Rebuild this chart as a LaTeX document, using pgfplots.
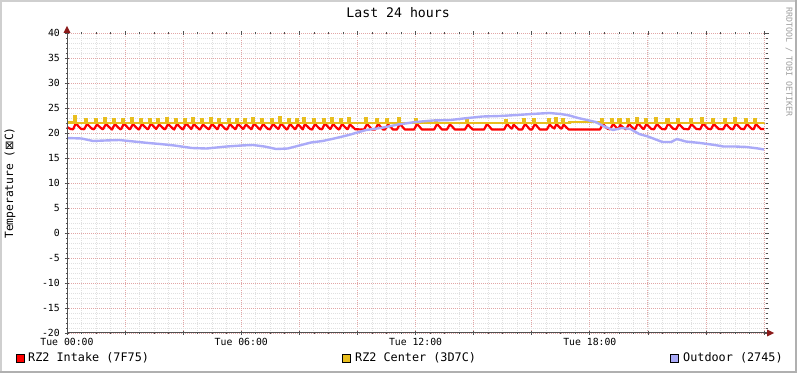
\documentclass[border=0pt]{standalone}
\usepackage{pgfplots}
\pgfplotsset{compat=1.18}
\usepackage{fontspec}
\setmainfont{DejaVu Sans Mono}
\newfontfamily\djs{DejaVu Sans}
\definecolor{intake}{HTML}{FF0000}
\definecolor{center}{HTML}{E8BE1E}
\definecolor{outdoor}{HTML}{AAAAF8}
\definecolor{mgrid}{HTML}{E2A6A6}
\definecolor{ngrid}{HTML}{E0E0E0}
\definecolor{axisc}{HTML}{505050}
\definecolor{arrowc}{HTML}{8B1A1A}
\definecolor{shadea}{HTML}{CFCFCF}
\definecolor{shadeb}{HTML}{B0B0B0}
\begin{document}
\begin{tikzpicture}
\fill[shadeb] (0bp,0bp) rectangle (797bp,373bp);
\fill[shadea] (0bp,2bp) rectangle (795bp,373bp);
\fill[white] (2bp,2bp) rectangle (795bp,371bp);
\begin{axis}[
  at={(67bp,40bp)}, anchor=south west,
  scale only axis, width=700bp, height=300bp,
  xmin=0, xmax=24.1, ymin=-20, ymax=40,
  axis line style={draw=none},
  xtick={0,2,...,24},
  xticklabels={Tue 00:00,,,Tue 06:00,,,Tue 12:00,,,Tue 18:00,,,},
  minor xtick={0,0.5,...,24},
  ytick={-20,-15,...,40},
  yticklabels={-20,-15,-10,-5,0,5,10,15,20,25,30,35,40},
  minor ytick={-20,-19,...,40},
  grid=both,
  major grid style={draw=mgrid, dash pattern=on 1bp off 1bp, line width=0.9bp},
  minor grid style={draw=ngrid, dash pattern=on 1bp off 1bp, line width=0.8bp},
  tick style={draw=axisc, line width=0.7bp},
  major tick length=4bp, minor tick length=2bp, tick align=center,
  tick label style={font=\fontsize{9.8bp}{11bp}\selectfont},
  xticklabel style={inner sep=0pt, yshift=-3bp},
  yticklabel style={inner sep=0pt, xshift=-5bp},
  title={Last 24 hours},
  title style={at={(axis description cs:0.473,1.047)}, anchor=center, font=\fontsize{13.2bp}{15bp}\selectfont},
  ylabel={Temperature ({\djs ⊠}C)},
  ylabel style={at={(axis description cs:-0.0814,0.5)}, anchor=center, font=\fontsize{11.3bp}{13bp}\selectfont},
  clip=false,
]
\addplot[intake, line width=2.2bp, line join=round] coordinates {
(0,21.2)(0.12,20.8)
(0.21,20.75)(0.31,22.0)(0.39,21.35)(0.48,20.85)
(0.59,20.75)(0.69,21.8)(0.77,21.35)(0.86,20.85)
(0.93,20.75)(1.03,21.7)(1.11,21.3)(1.20,20.85)
(1.24,20.75)(1.34,21.8)(1.42,21.35)(1.51,20.85)
(1.55,20.7)(1.65,21.8)(1.73,21.3)(1.82,20.8)
(1.86,20.75)(1.96,21.9)(2.04,21.4)(2.13,20.85)
(2.17,20.75)(2.27,21.8)(2.35,21.3)(2.44,20.8)
(2.48,20.7)(2.58,21.8)(2.66,21.35)(2.75,20.85)
(2.79,20.75)(2.89,21.9)(2.97,21.4)(3.06,20.85)
(3.07,20.8)(3.17,21.7)(3.25,21.3)(3.34,20.8)
(3.38,20.75)(3.48,21.8)(3.56,21.35)(3.65,20.85)
(3.69,20.7)(3.79,21.8)(3.87,21.3)(3.96,20.8)
(4.00,20.75)(4.10,21.9)(4.18,21.4)(4.27,20.85)
(4.28,20.8)(4.37,21.8)(4.45,21.3)(4.54,20.8)
(4.58,20.7)(4.68,21.7)(4.76,21.3)(4.85,20.85)
(4.89,20.75)(4.99,21.8)(5.07,21.35)(5.16,20.8)
(5.18,20.75)(5.27,21.9)(5.35,21.4)(5.44,20.85)
(5.51,20.7)(5.61,21.8)(5.69,21.3)(5.78,20.8)
(5.80,20.75)(5.89,21.8)(5.97,21.35)(6.05,20.85)
(6.07,20.8)(6.16,21.7)(6.24,21.3)(6.33,20.8)
(6.35,20.75)(6.44,21.9)(6.52,21.4)(6.61,20.85)
(6.65,20.7)(6.75,21.8)(6.83,21.3)(6.92,20.8)
(6.99,20.75)(7.09,21.8)(7.17,21.35)(7.26,20.85)
(7.28,20.8)(7.37,21.9)(7.45,21.4)(7.54,20.8)
(7.58,20.7)(7.68,21.8)(7.76,21.3)(7.84,20.8)
(7.86,20.75)(7.95,21.7)(8.03,21.3)(8.10,20.8)
(8.12,20.75)(8.19,21.8)(8.27,21.35)(8.37,20.8)
(8.44,20.7)(8.54,21.8)(8.62,21.3)(8.71,20.8)
(8.78,20.75)(8.88,21.9)(8.96,21.4)(9.05,20.85)
(9.07,20.8)(9.16,21.8)(9.24,21.3)(9.33,20.8)
(9.37,20.7)(9.47,21.8)(9.55,21.3)(9.64,20.8)
(9.66,20.75)(9.74,21.7)(9.82,21.3)(9.92,20.75)
(10.23,20.7)(10.33,21.8)(10.41,21.3)(10.50,20.7)
(10.61,20.7)(10.71,21.8)(10.79,21.3)(10.88,20.7)
(10.95,20.7)(11.05,21.7)(11.13,21.3)(11.22,20.7)
(11.36,20.7)(11.46,21.8)(11.54,21.3)(11.63,20.7)
(11.95,20.7)(12.05,21.8)(12.13,21.3)(12.22,20.7)
(12.64,20.7)(12.74,21.8)(12.82,21.3)(12.91,20.7)
(13.08,20.7)(13.18,21.7)(13.26,21.3)(13.35,20.7)
(13.70,20.7)(13.80,21.7)(13.88,21.2)(13.97,20.7)
(14.36,20.7)(14.46,21.8)(14.54,21.3)(14.63,20.7)
(15.05,20.7)(15.15,21.8)(15.23,21.3)(15.30,20.9)
(15.32,20.9)(15.38,21.7)(15.46,21.2)(15.55,20.7)
(15.67,20.7)(15.77,21.8)(15.85,21.3)(15.94,20.7)
(16.01,20.7)(16.11,21.8)(16.19,21.3)(16.28,20.7)
(16.52,20.7)(16.62,21.7)(16.70,21.2)
(16.78,20.9)(16.85,21.8)(16.93,21.3)(17.00,20.9)
(17.03,20.9)(17.10,21.7)(17.18,21.2)(17.27,20.7)
(18.35,20.7)(18.45,21.8)(18.53,21.3)(18.62,20.8)
(18.70,20.75)(18.80,21.8)(18.88,21.3)(18.96,20.85)
(18.98,20.8)(19.05,21.6)(19.13,21.2)(19.22,20.8)
(19.25,20.75)(19.35,21.8)(19.43,21.3)(19.52,20.8)
(19.56,20.75)(19.66,22.0)(19.74,21.4)(19.83,20.85)
(19.86,20.8)(19.95,21.8)(20.03,21.3)(20.12,20.8)
(20.21,20.75)(20.31,21.8)(20.39,21.3)(20.48,20.8)
(20.60,20.75)(20.70,21.9)(20.78,21.4)(20.87,20.85)
(20.97,20.75)(21.07,21.8)(21.15,21.3)(21.24,20.8)
(21.40,20.75)(21.50,21.8)(21.58,21.3)(21.67,20.8)
(21.80,20.75)(21.90,21.9)(21.98,21.4)(22.07,20.85)
(22.17,20.75)(22.27,21.8)(22.35,21.3)(22.44,20.8)
(22.59,20.75)(22.69,21.8)(22.77,21.3)(22.86,20.8)
(22.93,20.75)(23.03,21.9)(23.11,21.4)(23.20,20.85)
(23.31,20.75)(23.41,21.8)(23.49,21.3)(23.58,20.8)
(23.64,20.75)(23.72,21.8)(23.80,21.3)(23.89,20.8)
(24.0,20.8)
};
\addplot[center, line width=2.2bp, const plot] coordinates {
(0,22.1)
(0.25,23.3)(0.32,22.05)(0.63,22.8)(0.70,22.05)(0.97,22.8)(1.04,22.05)
(1.28,22.9)(1.35,22.05)(1.59,22.8)(1.66,22.05)(1.90,22.7)(1.97,22.05)
(2.21,22.9)(2.28,22.05)(2.52,22.8)(2.59,22.05)(2.83,22.8)(2.90,22.05)
(3.11,22.7)(3.18,22.05)(3.42,22.9)(3.49,22.05)(3.73,22.8)(3.80,22.05)
(4.04,22.8)(4.11,22.05)(4.31,23.0)(4.38,22.05)(4.62,22.8)(4.69,22.05)
(4.93,22.9)(5.00,22.05)(5.21,22.8)(5.28,22.05)(5.55,22.8)(5.62,22.05)
(5.83,22.8)(5.90,22.05)(6.10,22.7)(6.17,22.05)(6.38,22.9)(6.45,22.05)
(6.69,22.8)(6.76,22.05)(7.03,22.8)(7.10,22.05)(7.31,23.2)(7.38,22.05)
(7.62,22.8)(7.69,22.05)(7.89,22.8)(7.96,22.05)(8.13,22.9)(8.20,22.05)
(8.48,22.8)(8.55,22.05)(8.82,22.8)(8.89,22.05)(9.10,23.0)(9.17,22.05)
(9.41,22.8)(9.48,22.05)(9.68,22.9)(9.75,22.05)
(10.27,22.9)(10.34,22.05)(10.65,22.8)(10.72,22.05)(10.99,22.8)(11.06,22.05)
(11.40,22.9)(11.47,22.05)(11.99,22.7)(12.06,22.05)(12.68,22.6)(12.75,22.05)
(13.74,22.9)(13.81,22.05)(15.09,22.6)(15.16,22.05)(15.71,22.8)(15.78,22.05)
(16.05,22.8)(16.12,22.05)(16.56,22.8)(16.63,22.05)(16.79,22.9)(16.86,22.05)
(17.04,22.8)(17.11,22.05)(17.30,22.2)(18.30,22.05)
(18.39,22.8)(18.46,22.05)(18.74,22.8)(18.81,22.05)(18.99,22.7)(19.06,22.05)
(19.29,22.8)(19.36,22.05)(19.60,23.0)(19.67,22.05)(19.89,22.8)(19.96,22.05)
(20.25,22.9)(20.32,22.05)(20.64,22.8)(20.71,22.05)(21.01,22.8)(21.08,22.05)
(21.44,22.8)(21.51,22.05)(21.84,23.0)(21.91,22.05)(22.21,22.8)(22.28,22.05)
(22.63,22.8)(22.70,22.05)(22.97,22.9)(23.04,22.05)(23.35,22.8)(23.42,22.05)
(23.66,22.8)(23.73,22.05)(24.0,22.1)
};
\addplot[outdoor, line width=2.4bp, line join=round] coordinates {
(0,19.0)(0.5,18.9)(0.9,18.4)(1.3,18.5)(1.8,18.6)(2.3,18.3)(2.8,18.0)
(3.2,17.8)(3.7,17.5)(4.3,17.0)(4.8,16.9)(5.5,17.3)(6.0,17.5)(6.4,17.6)
(6.8,17.3)(7.2,16.8)(7.6,16.9)(8.0,17.5)(8.4,18.1)(8.8,18.4)(9.2,18.9)
(9.7,19.6)(10.3,20.6)(10.8,21.0)(11.4,21.7)(12.0,22.2)(12.6,22.5)(13.2,22.6)
(13.8,23.0)(14.3,23.3)(14.9,23.4)(15.5,23.6)(16.0,23.8)(16.6,24.0)(17.0,23.8)
(17.3,23.5)(17.6,23.0)(17.9,22.6)(18.2,22.2)(18.5,21.3)(18.8,20.6)(19.1,21.0)
(19.4,20.8)(19.7,19.8)(20.0,19.3)(20.5,18.2)(20.8,18.2)(21.0,18.8)(21.3,18.3)
(21.8,18.0)(22.3,17.6)(22.6,17.3)(23.0,17.3)(23.4,17.2)(23.8,16.9)(24.0,16.7)
};
\end{axis}
% axis lines and arrows
\draw[axisc, line width=1bp] (67bp,40bp) -- (768bp,40bp);
\draw[axisc, line width=1bp] (67bp,40bp) -- (67bp,341bp);
\fill[arrowc] (767bp,36.5bp) -- (774bp,40bp) -- (767bp,43.5bp) -- cycle;
\fill[arrowc] (63.5bp,340bp) -- (67bp,347bp) -- (70.5bp,340bp) -- cycle;
% watermark
\node[rotate=-90, text=black!38, inner sep=0pt, font=\fontsize{8.3bp}{9bp}\selectfont] at (789bp,311bp) {RRDTOOL / TOBI OETIKER};
% legend
\begin{scope}[font=\fontsize{11.8bp}{13bp}\selectfont]
\fill[intake] (16bp,11bp) rectangle (24bp,19bp); \draw[black, line width=0.8bp] (16bp,11bp) rectangle (24bp,19bp);
\node[anchor=west, inner sep=0pt] at (28bp,15bp) {RZ2 Intake (7F75)};
\fill[center] (342bp,11bp) rectangle (350bp,19bp); \draw[black, line width=0.8bp] (342bp,11bp) rectangle (350bp,19bp);
\node[anchor=west, inner sep=0pt] at (355bp,15bp) {RZ2 Center (3D7C)};
\fill[outdoor] (670bp,11bp) rectangle (678bp,19bp); \draw[black, line width=0.8bp] (670bp,11bp) rectangle (678bp,19bp);
\node[anchor=west, inner sep=0pt] at (683bp,15bp) {Outdoor (2745)};
\end{scope}
\end{tikzpicture}
\end{document}
